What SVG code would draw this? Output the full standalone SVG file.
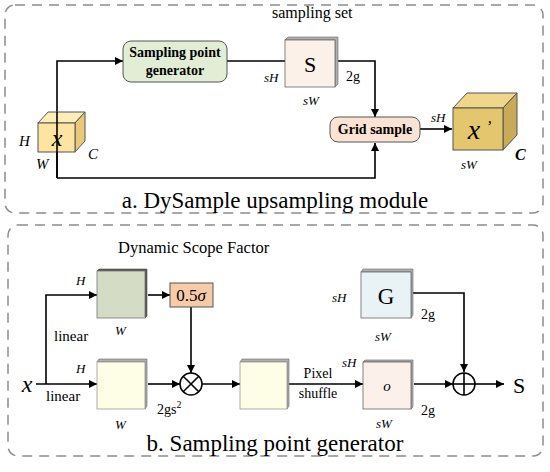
<svg xmlns="http://www.w3.org/2000/svg" width="550" height="472" viewBox="0 0 550 472" font-family="'Liberation Serif', 'DejaVu Serif', serif">
<defs>
<marker id="ah" viewBox="0 0 10 10" refX="10" refY="5" markerWidth="8" markerHeight="8" markerUnits="userSpaceOnUse" orient="auto"><path d="M0,0 L10,5 L0,10 z" fill="#000"/></marker>
<style>
text{font-family:'Liberation Serif','DejaVu Serif',serif;fill:#000}
.it{font-style:italic}
.bd{font-weight:bold}
.panel{fill:none;stroke:#8c8c8c;stroke-width:1.5;stroke-dasharray:10 7}
.ln{fill:none;stroke:#000;stroke-width:1.6}
.sh{fill:#b0b0b0;stroke:#666;stroke-width:0.6}
</style>
</defs>
<rect class="panel" x="5" y="5" width="538" height="208" rx="10"/>
<rect class="panel" x="8" y="225" width="535" height="231" rx="10"/>

<g id="connectors">
<polyline class="ln" points="57,178 57,61 123,61" marker-end="url(#ah)"/>
<line class="ln" x1="227" y1="61" x2="285" y2="61"/>
<polyline class="ln" points="338,61 375,61 375,117" marker-end="url(#ah)"/>
<polyline class="ln" points="57,178 375,178 375,143" marker-end="url(#ah)"/>
<line class="ln" x1="420" y1="129" x2="452" y2="129" marker-end="url(#ah)"/>
<line class="ln" x1="36" y1="384" x2="97" y2="384" marker-end="url(#ah)"/>
<polyline class="ln" points="46,384 46,295 97,295" marker-end="url(#ah)"/>
<line class="ln" x1="148" y1="295" x2="170" y2="295" marker-end="url(#ah)"/>
<line class="ln" x1="191" y1="307" x2="191" y2="373" marker-end="url(#ah)"/>
<line class="ln" x1="148" y1="384" x2="180" y2="384" marker-end="url(#ah)"/>
<line class="ln" x1="202" y1="384" x2="240" y2="384" marker-end="url(#ah)"/>
<line class="ln" x1="289" y1="384" x2="363" y2="384" stroke-width="1.2" marker-end="url(#ah)"/>
<polyline class="ln" points="413,293 464,293 464,372" marker-end="url(#ah)"/>
<line class="ln" x1="414" y1="384" x2="453" y2="384" marker-end="url(#ah)"/>
<line class="ln" x1="475" y1="384" x2="504" y2="384" marker-end="url(#ah)"/>
</g>

<g id="cube-x">
<polygon points="38,123 48,112 85,112 75,123" fill="#fdedb8" stroke="#555" stroke-width="1"/>
<polygon points="75,123 85,112 85,141 75,152" fill="#e8c97a" stroke="#555" stroke-width="1"/>
<rect x="38" y="123" width="37" height="29" fill="#fde4a0" stroke="#555" stroke-width="1"/>
<line class="ln" x1="57" y1="112" x2="57" y2="178"/>
<text class="it" x="57" y="146" font-size="24" text-anchor="middle">x</text>
<text class="it" x="19" y="146" font-size="15">H</text>
<text class="it" x="36" y="169" font-size="15">W</text>
<text class="it" x="88" y="159" font-size="15">C</text>
</g>

<g id="sampling-point-generator">
<rect x="123" y="41" width="104" height="41" rx="8" fill="#e2edd6" stroke="#555" stroke-width="1"/>
<text class="bd" x="175" y="57" font-size="14" text-anchor="middle">Sampling point</text>
<text class="bd" x="175" y="75" font-size="14" text-anchor="middle">generator</text>
</g>

<g id="box-S">
<polygon class="sh" points="285,40 288,37 338,37 338,84 335,87 335,40"/>
<rect x="285" y="40" width="50" height="47" fill="#fcf1e8" stroke="#666" stroke-width="0.8"/>
<text x="310" y="72" font-size="22" text-anchor="middle">S</text>
<text x="272" y="18" font-size="16">sampling set</text>
<text class="it" x="264" y="82" font-size="13">sH</text>
<text x="346" y="81" font-size="14">2g</text>
<text class="it" x="303" y="105" font-size="13">sW</text>
</g>

<g id="grid-sample">
<rect x="330" y="117" width="90" height="25" rx="8" fill="#fbe3d3" stroke="#555" stroke-width="1"/>
<text class="bd" x="375" y="134" font-size="14" text-anchor="middle">Grid sample</text>
<text class="it" x="431" y="122" font-size="13">sH</text>
</g>

<g id="cube-xprime">
<polygon points="453,108 467,93 517,93 503,108" fill="#f0d68a" stroke="#555" stroke-width="1"/>
<polygon points="503,108 517,93 517,135 503,150" fill="#c9aa58" stroke="#555" stroke-width="1"/>
<rect x="453" y="108" width="50" height="42" fill="#e3c66e" stroke="#555" stroke-width="1"/>
<text class="it" x="474" y="139" font-size="28" text-anchor="middle" fill="#222">x</text>
<text class="it" x="486" y="132" font-size="16">’</text>
<text class="it bd" x="515" y="160" font-size="16">C</text>
<text class="it" x="461" y="169" font-size="13">sW</text>
</g>

<text x="275" y="208" font-size="23" text-anchor="middle">a. DySample upsampling module</text>

<text x="118" y="253" font-size="16.5">Dynamic Scope Factor</text>
<text class="it" x="27" y="392" font-size="24" text-anchor="middle">x</text>
<text x="54" y="341" font-size="15">linear</text>
<text x="46" y="401" font-size="15">linear</text>

<g id="box-green">
<polygon points="97,271 99,269 147,269 147,316 145,318 145,271" fill="#555" stroke="#555" stroke-width="0.6"/>
<rect x="97" y="271" width="48" height="47" fill="#d4dcc6" stroke="#777" stroke-width="0.8"/>
<text class="it" x="76" y="285" font-size="13">H</text>
<text class="it" x="115" y="335" font-size="13">W</text>
</g>

<g id="sigma">
<rect x="170" y="283" width="43" height="24" fill="#f7caaa" stroke="#555" stroke-width="1"/>
<text x="191" y="301" font-size="17" text-anchor="middle">0.5<tspan class="it">σ</tspan></text>
</g>

<g id="box-yellow1">
<polygon class="sh" points="97,362 99,359 147,359 147,406 145,409 145,362"/>
<rect x="97" y="362" width="48" height="47" fill="#fefde6" stroke="#999" stroke-width="0.8"/>
<text class="it" x="76" y="373" font-size="13">H</text>
<text class="it" x="115" y="429" font-size="13">W</text>
<text x="157" y="414" font-size="14">2gs<tspan font-size="10" dy="-6">2</tspan></text>
</g>

<g id="mult">
<circle cx="191" cy="384" r="11" fill="#fff" stroke="#000" stroke-width="1.5"/>
<line class="ln" x1="183.2" y1="376.2" x2="198.8" y2="391.8" stroke-width="1.3"/>
<line class="ln" x1="183.2" y1="391.8" x2="198.8" y2="376.2" stroke-width="1.3"/>
</g>

<g id="box-yellow2">
<polygon class="sh" points="240,362 242,359 289,359 289,406 287,409 287,362"/>
<rect x="240" y="362" width="47" height="47" fill="#fefde6" stroke="#999" stroke-width="0.8"/>
<text x="318" y="378" font-size="14" text-anchor="middle">Pixel</text>
<text x="318" y="398" font-size="14" text-anchor="middle">shuffle</text>
</g>

<g id="box-G">
<polygon class="sh" points="361,272 363,269 413,269 413,315 411,318 411,272"/>
<rect x="361" y="272" width="50" height="46" fill="#e9f3f5" stroke="#666" stroke-width="0.8"/>
<text x="386" y="304" font-size="23" text-anchor="middle">G</text>
<text class="it" x="332" y="302" font-size="13">sH</text>
<text x="421" y="319" font-size="14">2g</text>
<text class="it" x="375" y="341" font-size="13">sW</text>
</g>

<g id="box-o">
<polygon class="sh" points="363,362 365,360 413,360 413,407 411,409 411,362"/>
<rect x="363" y="362" width="48" height="47" fill="#fbf0ea" stroke="#666" stroke-width="0.8"/>
<text class="it" x="387" y="391" font-size="15" text-anchor="middle">o</text>
<text class="it" x="342" y="367" font-size="13">sH</text>
<text x="421" y="415" font-size="14">2g</text>
<text class="it" x="376" y="428" font-size="13">sW</text>
</g>

<g id="add">
<circle cx="464" cy="384" r="11" fill="#fff" stroke="#000" stroke-width="1.5"/>
<line class="ln" x1="453" y1="384" x2="475" y2="384" stroke-width="1.3"/>
<line class="ln" x1="464" y1="373" x2="464" y2="395" stroke-width="1.3"/>
</g>
<text x="513" y="393" font-size="22">S</text>

<text x="275" y="451" font-size="23" text-anchor="middle">b. Sampling point generator</text>
</svg>
